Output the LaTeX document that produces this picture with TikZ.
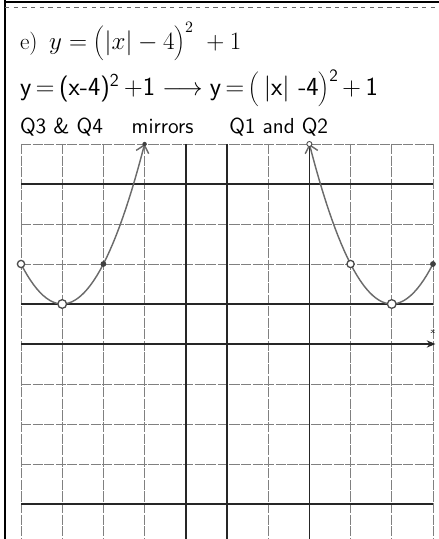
\documentclass[tikz,border=0pt]{standalone}
\usepackage{xcolor}
\usepackage{tikz}
\usetikzlibrary{arrows.meta, positioning}
\definecolor{pencil}{gray}{0.42}
\tikzset{
    gridline/.style={draw=black!50, line width=0.55pt, dash pattern=on 7pt off 1pt},
    boldline/.style={draw=black!85, line width=1.2pt},
    curve/.style={draw=pencil, line width=1pt},
    opendot/.style={circle, draw=pencil!70!black, line width=0.9pt, fill=white, inner sep=0pt, minimum size=5pt},
    fulldot/.style={circle, fill=pencil!60!black, inner sep=0pt, minimum size=4pt},
    myarrow/.style={-{Straight Barb[length=5pt,width=9pt]}},
    hand/.style={font=\sffamily\fontsize{18}{22}\selectfont, anchor=base west, inner sep=0pt}
}

\begin{document}
\begin{tikzpicture}[x=1cm, y=0.971cm]
    \useasboundingbox (-5.51,-4.875) rectangle (5.146,8.6);
    % page edges
    \draw[line width=1pt] (-5.39,8.6) -- (-5.39,-4.875);
    \draw[line width=1.4pt] (-5.39,8.54) -- (5.146,8.54);
    \draw[line width=0.4pt, black!60, dashed] (-5.39,8.43) -- (5.146,8.43);
    % grid
    \foreach \x in {-5,-4,-3,-2,1,3,4,5}
        \draw[gridline] (\x,5) -- (\x,-4.875);
    \foreach \y in {5,3,2,-1,-2,-3}
        \draw[gridline] (-5,\y) -- (5,\y);
    \foreach \x in {-1,0,2}
        \draw[boldline] (\x,5) -- (\x,-4.875);
    \foreach \y in {4,1,-4}
        \draw[boldline] (-5,\y) -- (5,\y);
    % x-axis
    \coordinate (xl) at (-5,0);
    \coordinate (xr) at (5.06,0);
    \draw[boldline, line width=1.5pt, -{Stealth[length=6pt,width=5pt]}] (xl) -- (xr);
    \node (xlab) [font=\tiny, inner sep=0pt] at (5.0,0.3) {x};

    % texts
    \node (title) [anchor=base west, inner sep=0pt, font=\fontsize{16}{19}\selectfont] at (-5.03,7.35)
        {e)\enspace $y=\biggl(\Bigl|x\Bigr|-4\biggr)^{2}\;+1$};
    \node (work) [hand] at (-5.03,6.2)
        {y\,=\,(x-4)\textsuperscript{2}\,+1\;$\longrightarrow$\;y\,=\,\bigg(\,|x|\,\,-4\bigg)\raisebox{1.3ex}{\fontsize{12}{12}\selectfont 2}\,+\,1};
    \node (note) [hand, font=\sffamily\fontsize{15}{17}\selectfont] at (-5.03,5.27)
        {Q3 \& Q4\quad\ mirrors\quad\ \ Q1 and Q2};

    % graph
    \draw[curve, myarrow] plot[domain=-5:-2, samples=40] (\x, {(\x+4)^2+1});
    \draw[curve, myarrow] plot[domain=5:2, samples=40] (\x, {(\x-4)^2+1});
    \node (la) [opendot] at (-5,2) {};
    \node (lv) [opendot, minimum size=6pt] at (-4,1) {};
    \node (lb) [fulldot] at (-3,2) {};
    \node (ra) [opendot] at (3,2) {};
    \node (rv) [opendot, minimum size=6pt] at (4,1) {};
    \node (rb) [fulldot] at (5,2) {};
    \node (lt) [fulldot, minimum size=3pt] at (-2,5) {};
    \node (rt) [opendot, minimum size=3.5pt, line width=0.6pt] at (2,5) {};
\end{tikzpicture}
\end{document}
